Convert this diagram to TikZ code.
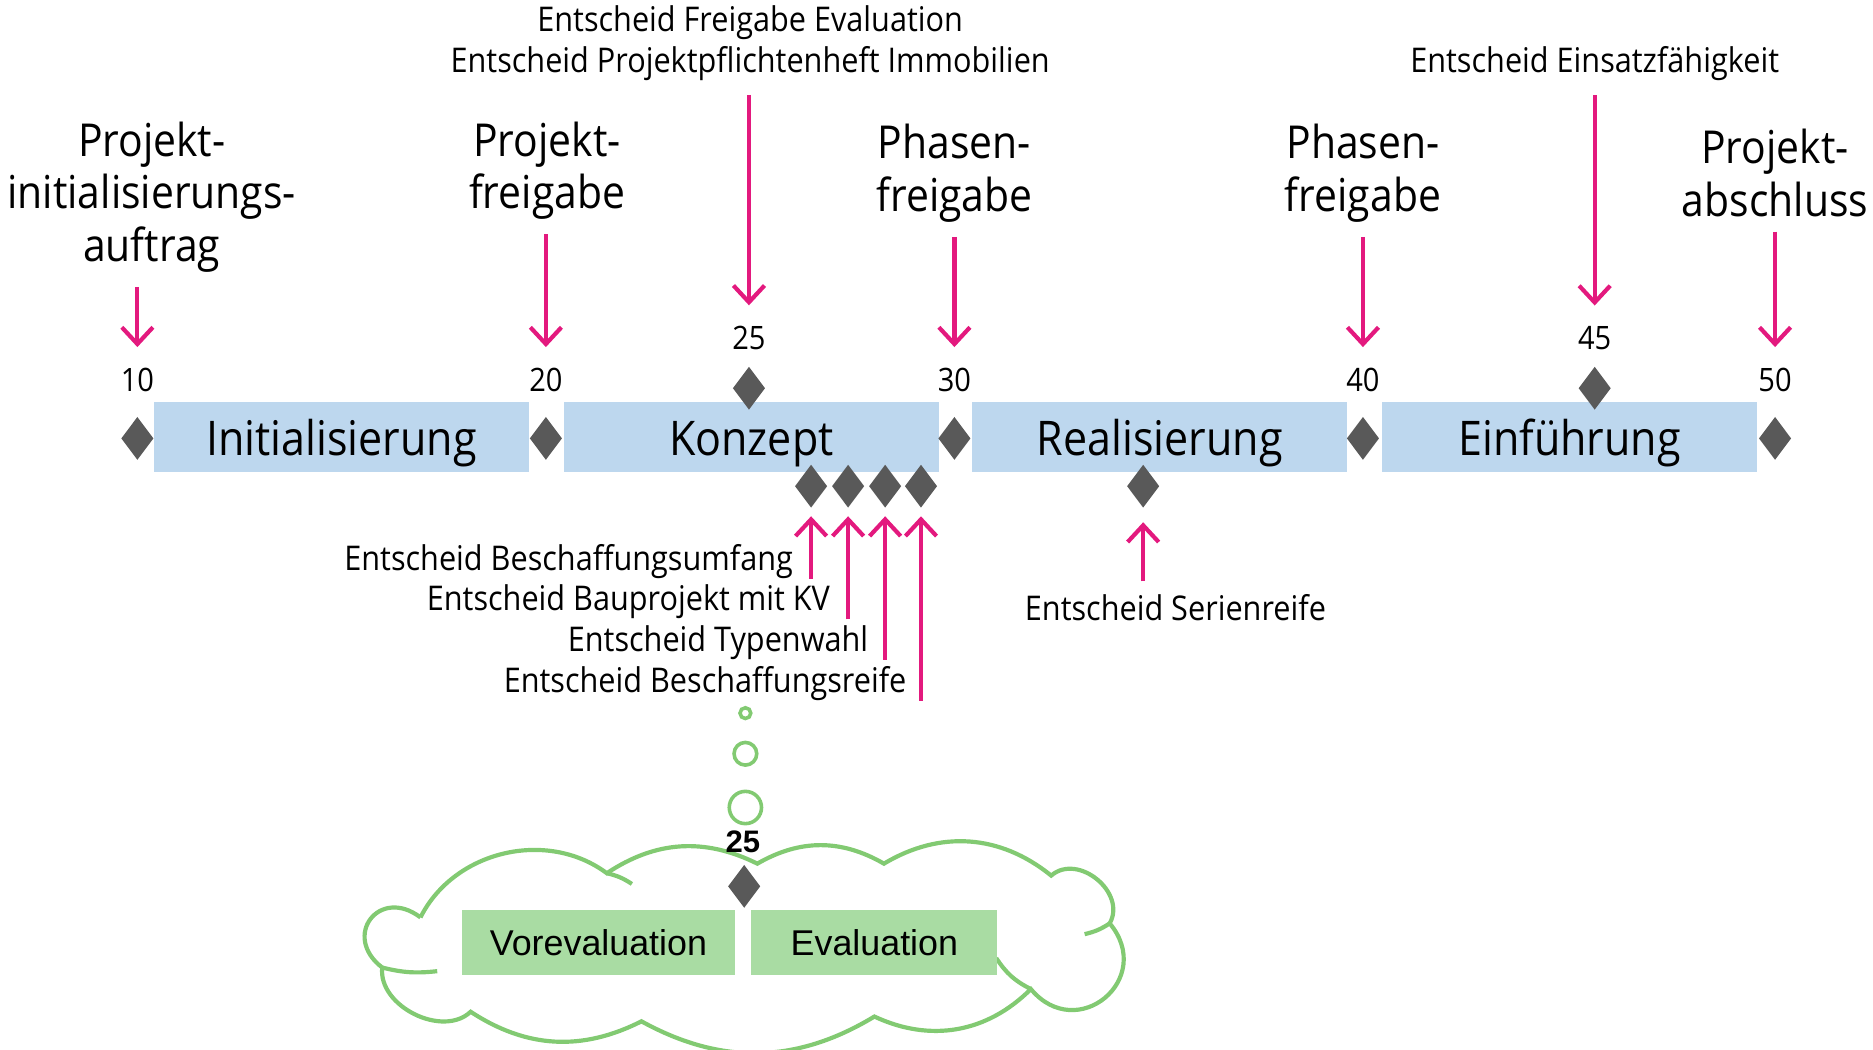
\documentclass[tikz,border=0pt]{standalone}
\usepackage{fontspec}
\setmainfont[FakeStretch=0.9]{Open Sans}
\newfontfamily\arialfont{Liberation Sans}
\usetikzlibrary{positioning,shapes,arrows.meta}
\usepackage{xcolor}
\definecolor{phaseblue}{HTML}{BDD7EE}
\definecolor{gatepink}{HTML}{E3197E}
\definecolor{gategray}{HTML}{595959}
\definecolor{cloudgreen}{HTML}{82CA72}
\definecolor{evalgreen}{HTML}{A9DCA3}

\begin{document}
\begin{tikzpicture}[x=1pt, y=-1pt,
    phase/.style={rectangle, fill=phaseblue, minimum width=314pt, minimum height=59pt, inner sep=0pt, text height=36pt, text depth=6pt, font=\fontsize{40}{48}\selectfont},
    evalbox/.style={rectangle, fill=evalgreen, minimum height=54pt, inner sep=0pt, font=\arialfont\fontsize{30}{36}\selectfont},
    gate/.style={diamond, fill=gategray, minimum width=27pt, minimum height=36pt, inner sep=0pt},
    num/.style={inner sep=0pt, font=\fontsize{27}{32}\selectfont},
    title/.style={inner sep=0pt, align=center, font=\fontsize{38}{44}\selectfont},
    note/.style={inner sep=0pt, align=center, font=\fontsize{28.5}{34}\selectfont},
    pin/.style={gatepink, line width=3.5pt, -{Straight Barb[length=14pt,width=26pt]}},
    down/.style={pin, shorten <=12pt, shorten >=17pt},
    up/.style={pin, shorten >=7pt},
    bubble/.style={circle, draw=cloudgreen, line width=3pt, inner sep=0pt},
    cloudline/.style={draw=cloudgreen, line width=3.5pt}]
    \useasboundingbox (0,0) rectangle (1568,879);

    % phases
    \node[phase] (init) at (286,366) {Initialisierung};
    \node[phase] (konz) at (629,366) {Konzept};
    \node[phase] (real) at (971,366) {Realisierung};
    \node[phase] (einf) at (1314,366) {Einführung};

    % milestones on the time line
    \node[gate] (g10) at (115,367) {};
    \node[gate] (g20) at (457,367) {};
    \node[gate] (g30) at (799,367) {};
    \node[gate] (g40) at (1141,367) {};
    \node[gate] (g50) at (1486,367) {};
    \node[gate] (g25) at (627,325) {};
    \node[gate] (g45) at (1335,325) {};
    \node[num, above=21pt of g10] (n10) {10};
    \node[num, above=21pt of g20] (n20) {20};
    \node[num, above=21pt of g30] (n30) {30};
    \node[num, above=21pt of g40] (n40) {40};
    \node[num, above=21pt of g50] (n50) {50};
    \node[num, above=14pt of g25] (n25) {25};
    \node[num, above=14pt of g45] (n45) {45};

    % decisions from above
    \node[title] (t10) at (127,165) {Projekt-\\initialisierungs-\\auftrag};
    \node[title] (t20) at (458,143) {Projekt-\\freigabe};
    \node[title] (t30) at (799,145) {Phasen-\\freigabe};
    \node[title] (t40) at (1141,145) {Phasen-\\freigabe};
    \node[title] (t50) at (1486,145) {Projekt-\\abschluss};
    \node[note] (t25) at (628,36) {Entscheid Freigabe Evaluation\\Entscheid Projektpflichtenheft Immobilien};
    \node[note] (t45) at (1335,53) {Entscheid Einsatzfähigkeit};
    \draw[down] (t10.south -| g10) -- (n10.north);
    \draw[down] (t20.south -| g20) -- (n20.north);
    \draw[down] (t30.south -| g30) -- (n30.north);
    \draw[down] (t40.south -| g40) -- (n40.north);
    \draw[down] (t50.south -| g50) -- (n50.north);
    \draw[down] (t25.south -| g25) -- (n25.north);
    \draw[down] (t45.south -| g45) -- (n45.north);

    % decisions from below
    \node[gate] (k1) at (679,407) {};
    \node[gate] (k2) at (710,407) {};
    \node[gate] (k3) at (741,407) {};
    \node[gate] (k4) at (771,407) {};
    \node[gate] (s1) at (957,407) {};
    \node[note, anchor=east] (l1) at (664,470) {Entscheid Beschaffungsumfang};
    \node[note, anchor=east] (l2) at (695,504) {Entscheid Bauprojekt mit KV};
    \node[note, anchor=east] (l3) at (727,538) {Entscheid Typenwahl};
    \node[note, anchor=east] (l4) at (759,572) {Entscheid Beschaffungsreife};
    \node[note] (ls) at (984,509) {Entscheid Serienreife};
    \draw[up] (l1.south -| k1) -- (k1.south);
    \draw[up] (l2.south -| k2) -- (k2.south);
    \draw[up] (l3.south -| k3) -- (k3.south);
    \draw[up] (l4.south -| k4) -- (k4.south);
    \draw[up, shorten <=11pt, shorten >=12pt] (ls.north -| s1) -- (s1.south);

    % evaluation cloud
    \node[bubble, minimum size=9pt] (b1) at (624,597) {};
    \node[bubble, minimum size=19pt] (b2) at (624,631) {};
    \node[bubble, minimum size=27pt] (b3) at (624,676) {};
    \coordinate (j1) at (352,768);
    \coordinate (j2) at (508,731);
    \coordinate (j3) at (634,723);
    \coordinate (j4) at (740,723);
    \coordinate (j5) at (880,733);
    \coordinate (j6) at (929,773);
    \coordinate (j7) at (863,828);
    \coordinate (j8) at (732,851);
    \coordinate (j9) at (537,855);
    \coordinate (j10) at (394,847);
    \coordinate (j11) at (320,810);
    \draw[cloudline, fill=white] (j1) to[bend left=50] (j2) to[bend left=30] (j3)
        to[bend left=30] (j4) to[bend left=35] (j5) to[bend left=80, looseness=1.2] (j6)
        to[bend left=90, looseness=1.8] (j7) to[bend left=35] (j8) to[bend left=30] (j9)
        to[bend left=30] (j10) to[bend left=70] (j11) to[bend left=90, looseness=2.1] (j1);
    \draw[cloudline] (j11) to[bend right=10] (366,813);
    \draw[cloudline] (j2) to[bend left=10] (529,740);
    \draw[cloudline] (j6) to[bend left=10] (908,782);
    \draw[cloudline] (j7) to[bend left=15] (834,802);
    \node[evalbox, minimum width=228pt] (vor) at (501,789) {Vorevaluation};
    \node[evalbox, minimum width=206pt] (eva) at (732,789) {Evaluation};
    \node[gate] (ge) at (623,742) {};
    \node[inner sep=0pt, font=\arialfont\bfseries\fontsize{26}{30}\selectfont] (ne) at (622,705) {25};
\end{tikzpicture}
\end{document}
